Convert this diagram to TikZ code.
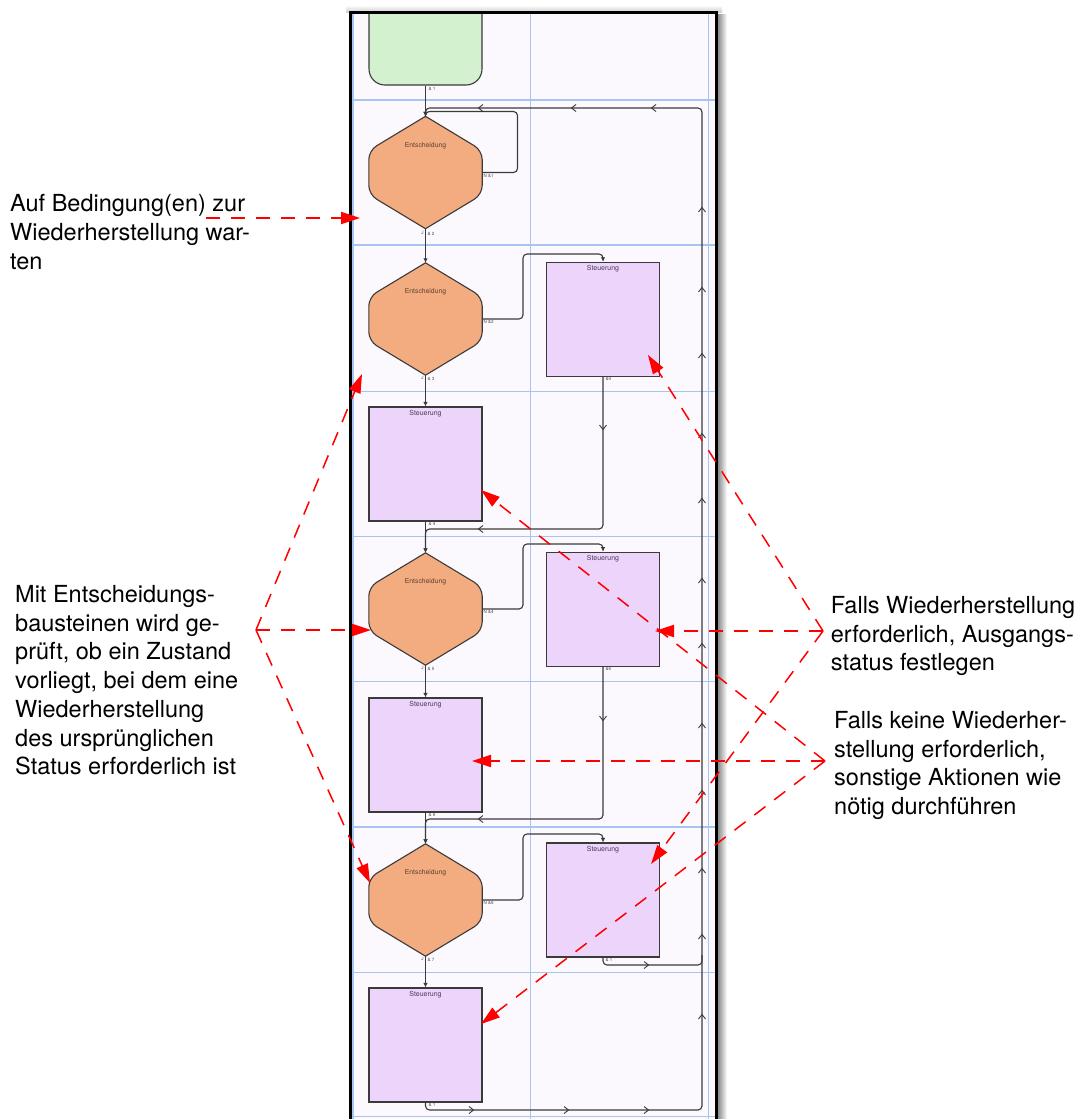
\documentclass[tikz,border=0pt]{standalone}
\usepackage{fontspec}
\setmainfont{TeX Gyre Heros}
\usetikzlibrary{arrows.meta}
\definecolor{framebg}{HTML}{FBF9FD}
\definecolor{gridblue}{HTML}{A8C4F2}
\definecolor{greenfill}{HTML}{D3F1CF}
\definecolor{orangefill}{HTML}{F3AC80}
\definecolor{purplefill}{HTML}{EDD4FA}
\definecolor{lineclr}{HTML}{3A3A3A}
\definecolor{annot}{HTML}{FF0000}
\definecolor{hextext}{HTML}{5A4030}
\definecolor{boxtext}{HTML}{4A3D58}
\tikzset{
 shapeline/.style={draw=lineclr, line width=1.1pt},
 ctrlbox/.style={shapeline, fill=purplefill, minimum width=113pt, minimum height=114pt, inner sep=0pt},
 hexbox/.style={minimum width=113pt, minimum height=112pt, inner sep=0pt},
 conn/.style={draw=lineclr, line width=1.1pt, rounded corners=4pt},
 flow/.style={conn, -{Latex[length=4.5pt,width=4.5pt]}},
 lbl/.style={font=\fontsize{4.5}{5}\selectfont, text=gray!60!black, inner sep=0.3pt},
 boxtitle/.style={font=\fontsize{7}{8}\selectfont, text=boxtext, inner sep=0pt},
 hextitle/.style={font=\fontsize{6.8}{8}\selectfont, text=hextext, inner sep=0pt},
 note/.style={draw=annot, line width=1.5pt, dash pattern=on 14pt off 11pt, -{Triangle[length=19pt,width=12pt,fill=annot]}},
 noteh/.style={note, line width=2pt},
 notetext/.style={font=\fontsize{23.5}{28.7}\selectfont, anchor=base west, inner sep=0pt},
 chev/.pic={\draw[draw=lineclr, line width=0.9pt] (-3,-3.5) -- (1.5,0) -- (-3,3.5);}
}
\newcommand\dechex[2]{%
 \node[hexbox] (#1) at (425.5,#2) {};
 \filldraw[shapeline, fill=orangefill]
   (#1.north) [rounded corners=9pt] -- ([yshift=22pt]#1.west) -- ([yshift=-22pt]#1.west) [sharp corners] -- (#1.south)
   [rounded corners=9pt] -- ([yshift=-22pt]#1.east) -- ([yshift=22pt]#1.east) [sharp corners] -- cycle;
 \node[hextitle] (#1t) at ([yshift=-29pt]#1.north) {Entscheidung};
}
\newcommand\ctrlnode[3]{%
 \node[ctrlbox] (#1) at (#2,#3) {};
 \node[boxtitle] (#1t) at ([yshift=-7pt]#1.north) {Steuerung};
}
\begin{document}
\begin{tikzpicture}[x=1pt,y=-1pt]
\useasboundingbox (0,0) rectangle (1082,1119);
% frame
\shade[top color=white, bottom color=black!18] (346,5) rectangle (722,12);
\fill[framebg] (350,12) rectangle (717,1119);
\shade[left color=black!50, right color=white] (717,14) rectangle (727,1119);
\foreach \yy in {100,245,391.7,536.7,681.7,827,972.7,1116.7}
  \draw[gridblue, line width=1.2pt] (352,\yy) -- (716,\yy);
\foreach \xx in {353,530.7,708.3}
  \draw[gridblue, line width=1.2pt] (\xx,13) -- (\xx,1119);
\draw[black, line width=3pt] (350.5,1119) -- (350.5,12.5) -- (716,12.5) -- (716,1119);
% start box (clipped)
\begin{scope}
 \clip (352,14) rectangle (714,1119);
 \node[shapeline, fill=greenfill, rounded corners=16pt, minimum width=113pt, minimum height=98pt, inner sep=0pt] (start) at (425.5,36) {};
\end{scope}
% shapes
\dechex{d1}{172.5}
\dechex{d2}{319}
\dechex{d3}{609}
\dechex{d4}{900}
\ctrlnode{boxA}{425.5}{464}
\ctrlnode{boxB}{425.5}{755}
\ctrlnode{boxC}{425.5}{1045}
\ctrlnode{r1}{603}{319.3}
\ctrlnode{r2}{603}{609.2}
\ctrlnode{r3}{603}{900}
% connectors
\draw[flow] (start.south) -- (d1.north);
\draw[flow] (d1.east) -| (517.5,111.5) -| (d1.north);
\draw[flow] (boxC.south) |- (702,1110) -- (702,108) -| (d1.north);
\draw[conn] (r3.south) |- (702,965) -- (702,955);
\draw[flow] (d1.south) -- (d2.north);
\draw[flow] (d2.east) -| (523,254) -| (r1.north);
\draw[flow] (d2.south) -- (boxA.north);
\draw[flow] (r1.south) |- (425.5,529) -- (d3.north);
\draw[flow] (boxA.south) -- (d3.north);
\draw[flow] (d3.east) -| (523,544) -| (r2.north);
\draw[flow] (d3.south) -- (boxB.north);
\draw[flow] (r2.south) |- (425.5,819) -- (d4.north);
\draw[flow] (boxB.south) -- (d4.north);
\draw[flow] (d4.east) -| (523,834) -| (r3.north);
\draw[flow] (d4.south) -- (boxC.north);
% chevrons
\foreach \xx in {480,573,653} \pic[rotate=180] at (\xx,108) {chev};
\foreach \yy in {209,289,355,435,500,580,645,725,792,870,936,1016} \pic[rotate=90] at (702,\yy) {chev};
\foreach \xx in {472,567,647} \pic at (\xx,1110) {chev};
\pic at (647,965) {chev};
\pic[rotate=-90] at (603,428) {chev};
\pic[rotate=180] at (480,529) {chev};
\pic[rotate=-90] at (603,719) {chev};
\pic[rotate=180] at (480,819) {chev};
% small labels
\node[lbl, anchor=west] (l0) at (428,89) {\& 1};
\node[lbl, anchor=west] (l1r) at (483,176) {N \&1};
\node[lbl, anchor=east] (l1j) at (424,233) {J};
\node[lbl, anchor=west] (l1b) at (427,233.5) {\& 2};
\node[lbl, anchor=west] (l2r) at (483,322) {N \&2};
\node[lbl, anchor=east] (l2j) at (424,378) {J};
\node[lbl, anchor=west] (l2b) at (427,378.5) {\& 3};
\node[lbl, anchor=west] (lar) at (605,379) {\&4};
\node[lbl, anchor=west] (lab) at (428,524) {\& 4};
\node[lbl, anchor=west] (l3r) at (483,612) {N \&4};
\node[lbl, anchor=east] (l3j) at (424,668) {J};
\node[lbl, anchor=west] (l3b) at (427,668.5) {\& 5};
\node[lbl, anchor=west] (lbr) at (605,669) {\&6};
\node[lbl, anchor=west] (lbb) at (428,815) {\& 6};
\node[lbl, anchor=west] (l4r) at (483,903) {N \&6};
\node[lbl, anchor=east] (l4j) at (424,959) {J};
\node[lbl, anchor=west] (l4b) at (427,959.5) {\& 7};
\node[lbl, anchor=west] (lcr) at (605,960) {\& 1};
\node[lbl, anchor=west] (lcb) at (428,1105) {\& 1};
% annotation texts
\foreach \t [count=\i] in {Auf Bedingung(en) zur, Wiederherstellung war-, ten}
  \node[notetext] (ta\i) at (10,{211.7+28.7*(\i-1)}) {\t};
\foreach \t [count=\i] in {Mit Entscheidungs-, bausteinen wird ge-, {prüft, ob ein Zustand}, {vorliegt, bei dem eine}, Wiederherstellung, des ursprünglichen, Status erforderlich ist}
  \node[notetext] (tb\i) at (15,{602.5+28.7*(\i-1)}) {\t};
\foreach \t [count=\i] in {Falls Wiederherstellung, {erforderlich, Ausgangs-}, status festlegen}
  \node[notetext] (tc\i) at (830.7,{613.3+28.7*(\i-1)}) {\t};
\foreach \t [count=\i] in {Falls keine Wiederher-, {stellung erforderlich,}, sonstige Aktionen wie, nötig durchführen}
  \node[notetext] (td\i) at (834,{728.3+28.7*(\i-1)}) {\t};
% annotation arrows
\coordinate (o1) at (206,218);
\coordinate (o2) at (256,630);
\coordinate (o3) at (823,631);
\coordinate (o4) at (825,761);
\coordinate (t1) at (360,218);
\coordinate (t2a) at (362,374);
\coordinate (t2b) at (371,630);
\coordinate (t2c) at (370,883);
\coordinate (t3a) at (648,355);
\coordinate (t3b) at (655,631);
\coordinate (t3c) at (651,864);
\coordinate (t4a) at (481,490);
\coordinate (t4b) at (472,761);
\coordinate (t4c) at (481,1024);
\draw[noteh] (o1) -- (t1);
\draw[note] (o2) -- (t2a);
\draw[noteh] (o2) -- (t2b);
\draw[note] (o2) -- (t2c);
\draw[note] (o3) -- (t3a);
\draw[noteh] (o3) -- (t3b);
\draw[note] (o3) -- (t3c);
\draw[note] (o4) -- (t4a);
\draw[noteh] (o4) -- (t4b);
\draw[note] (o4) -- (t4c);
\end{tikzpicture}
\end{document}
